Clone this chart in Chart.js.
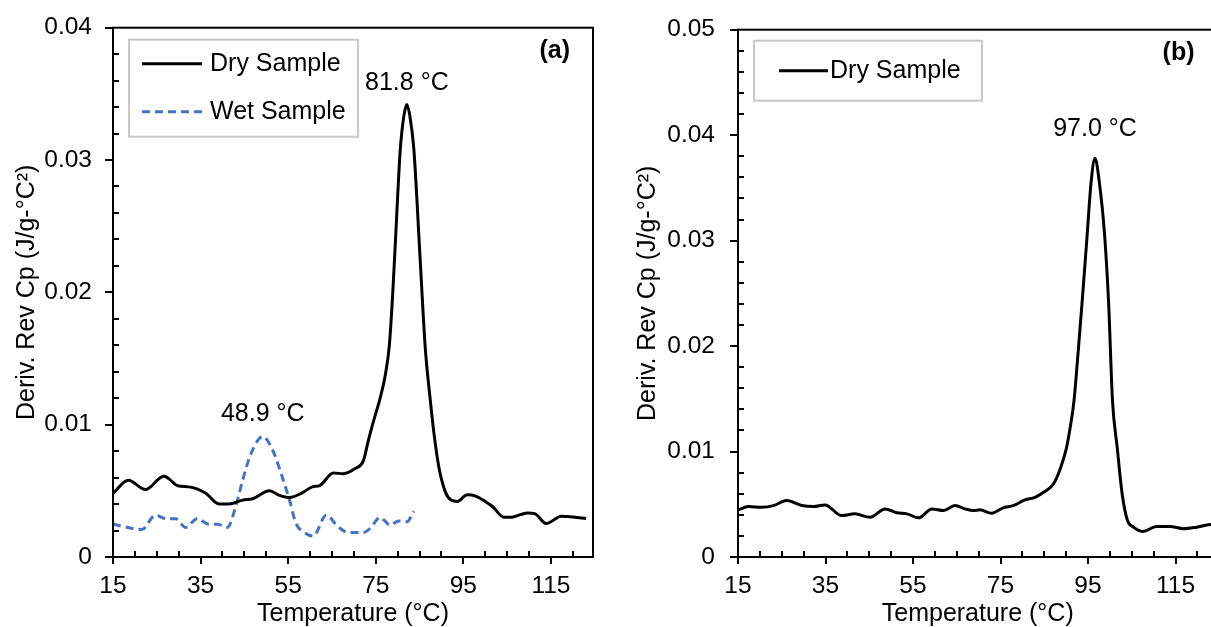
<!DOCTYPE html>
<html>
<head>
<meta charset="utf-8">
<title>Deriv. Rev Cp - Dry / Wet Sample</title>
<script src="https://cdn.jsdelivr.net/npm/chart.js@4.4.1/dist/chart.umd.min.js"></script>
<style>
html, body { margin:0; padding:0; background:#fff; overflow:hidden; }
#wrap { position:relative; width:1211px; height:627px; overflow:hidden; }
#id_chart_a { position:absolute; left:0; top:0; }
#id_chart_b { position:absolute; left:621px; top:0; }
</style>
</head>
<body>
<div id="wrap">
    <canvas id="id_chart_a" width="621" height="627"></canvas>
    <canvas id="id_chart_b" width="620" height="627"></canvas>
</div>
<script>
// ---- values read off the figure : temperature (°C) / Deriv. Rev Cp (J/g-°C^2)
// panel (a), dry
var tempDryA = [15, 18.5, 22.4, 26.6, 30, 32.3, 36.1, 39.2, 41.5, 44.6,
    46.9, 50.7, 53, 55.3, 58.2, 60.5, 62.2, 65.3, 67.6, 70.2,
    72.2, 73.3, 74.6, 76.0, 77.2, 78.1, 78.8, 79.4, 80.6, 81.4,
    82.1, 82.8, 83.7, 85.0, 86.3, 87.4, 88.3, 89.4, 90.9, 92.2,
    93.6, 95.9, 97.8, 100, 101.7, 104.3, 105.8, 108, 109.7, 111.3,
    113.9, 117.4, 120.1, 123];
var cpDryA = [0.0048, 0.0058, 0.0051, 0.0061, 0.00536, 0.0053, 0.00484, 0.004, 0.004, 0.0043,
    0.0044, 0.005, 0.00466, 0.0045, 0.00485, 0.0053, 0.0054, 0.00634, 0.0063, 0.00667,
    0.0073, 0.0088, 0.0104, 0.012, 0.0138, 0.016, 0.0195, 0.0233, 0.0308, 0.0333,
    0.0342, 0.0333, 0.0308, 0.0233, 0.0158, 0.012, 0.0093, 0.0068, 0.0049, 0.0043,
    0.0042, 0.0047, 0.0046, 0.0042, 0.0038, 0.003, 0.003, 0.0032, 0.00333, 0.00328,
    0.00253, 0.00308, 0.00303, 0.00291];
// panel (a), wet
var tempWetA = [15, 17, 21.6, 24.7, 27, 29.3, 31.6, 34.2, 36.9, 38.8,
    41.1, 43, 44.6, 46.5, 49.2, 51.5, 53.4, 55.3, 56.8, 58.5,
    60.7, 63.7, 66.4, 68.7, 72.2, 73.7, 76, 78.3, 80.2, 82.1,
    83.7];
var cpWetA = [0.0025, 0.00233, 0.00208, 0.00316, 0.0029, 0.0029, 0.00223, 0.0029, 0.00248, 0.00248,
    0.00223, 0.00378, 0.0058, 0.0078, 0.0091, 0.00805, 0.0063, 0.0043, 0.00253, 0.0019,
    0.00158, 0.00316, 0.00228, 0.00186, 0.00186, 0.00216, 0.00298, 0.00241, 0.00273, 0.00266,
    0.00346];
// panel (b), dry
var tempDryB = [15, 17.4, 20.4, 23.1, 26.1, 29.6, 32.2, 34.9, 38.7, 41.7,
    45.2, 48.6, 51.3, 53.6, 56.3, 59.3, 62, 64.6, 66.9, 68.8,
    70.3, 73, 75.6, 77.9, 80.6, 82.9, 85.2, 87.1, 88.6, 90,
    90.9, 91.8, 92.7, 93.7, 94.8, 95.7, 96.6, 97.6, 98.8, 99.7,
    100.6, 101.7, 102.8, 104, 105.4, 107.5, 110.7, 113.7, 116.8, 119.8,
    122.9, 124.6];
var cpDryB = [0.00447, 0.00478, 0.00472, 0.00487, 0.00535, 0.00488, 0.00478, 0.00494, 0.00393, 0.00409,
    0.00377, 0.00456, 0.00419, 0.00409, 0.00371, 0.00456, 0.0044, 0.00488, 0.00456, 0.0044,
    0.00447, 0.00415, 0.00466, 0.00487, 0.00541, 0.00566, 0.00623, 0.00692, 0.0083, 0.0102,
    0.0122, 0.0148, 0.0192, 0.0244, 0.0305, 0.0355, 0.0378, 0.0355, 0.0305, 0.0242,
    0.0148, 0.0103, 0.006, 0.0035, 0.00283, 0.00242, 0.0029, 0.0029, 0.00268, 0.00283,
    0.00308, 0.0031];

var xTickLabels = [15, 35, 55, 75, 95, 115];
var yTickLabelsA = [0, 0.01, 0.02, 0.03, 0.04];
var yTickLabelsB = [0, 0.01, 0.02, 0.03, 0.04, 0.05];

var seriesNames = ["Dry Sample", "Wet Sample"];
var peakTextA = ["81.8 °C", "48.9 °C"];
var peakTextB = ["97.0 °C"];
var panelTags = ["(a)", "(b)"];
var xTitle = "Temperature (°C)";
var yTitle = "Deriv. Rev Cp (J/g-°C²)";

// ----------------------------------------------------------------------
var FONT = '"Liberation Sans", Arial, sans-serif';
Chart.defaults.font.family = FONT;
Chart.defaults.color = '#000';

var _points = function( temps, values ){
    var list = [], n = temps.length, i;
    for( i=0; i<n; i++ ){
        list.push({ "x" : temps[i], "y" : values[i] });
    }
    return list;
};

// frame, inward minor ticks, boxed legend, peak notes and the (a)/(b) tag
var _decorPlugin = function( cfg ){
    return {
        id : 'panelDecor',
        afterDraw : function( chart ){
            var ctx = chart.ctx;
            var area = chart.chartArea;
            var xs = chart.scales.x, ys = chart.scales.y;
            var k, v, px, py;

            ctx.save();
            ctx.strokeStyle = '#000';
            ctx.lineWidth = 2;
            ctx.strokeRect(area.left, area.top, area.right - area.left, area.bottom - area.top);

            ctx.beginPath();
            for( k=1; (v = xs.min + k*5) <= xs.max; k++ ){
                if( k % 4 === 0 ) continue;
                px = Math.round(xs.getPixelForValue(v));
                ctx.moveTo(px, area.bottom);
                ctx.lineTo(px, area.bottom - 6);
            }
            for( k=1; (v = k*0.002) <= ys.max + 1e-9; k++ ){
                if( k % 5 === 0 ) continue;
                py = Math.round(ys.getPixelForValue(v));
                ctx.moveTo(area.left, py);
                ctx.lineTo(area.left + 6, py);
            }
            ctx.stroke();

            // legend
            var lg = cfg.legend;
            ctx.strokeStyle = '#c8c8c8';
            ctx.lineWidth = 2;
            ctx.strokeRect(area.left + lg.box[0], area.top + lg.box[1], lg.box[2], lg.box[3]);
            ctx.font = '25px ' + FONT;
            ctx.textBaseline = 'middle';
            ctx.textAlign = 'left';
            ctx.fillStyle = '#000';
            chart.data.datasets.forEach(function( ds, i ){
                var y = area.top + lg.rows[i];
                ctx.beginPath();
                ctx.strokeStyle = ds.borderColor;
                ctx.lineWidth = ds.borderWidth;
                ctx.setLineDash(ds.borderDash || []);
                ctx.moveTo(area.left + lg.line[0], y);
                ctx.lineTo(area.left + lg.line[1], y);
                ctx.stroke();
                ctx.setLineDash([]);
                ctx.fillText(ds.label, area.left + lg.textX, y);
            });

            // peak notes, above the highest point of each series
            ctx.textAlign = 'center';
            cfg.notes.forEach(function( note ){
                var data = chart.data.datasets[note.dataset].data;
                var top = data[0];
                data.forEach(function( p ){ if( p.y > top.y ) top = p; });
                ctx.fillText(note.text, xs.getPixelForValue(top.x), ys.getPixelForValue(top.y) - note.lift);
            });

            ctx.font = 'bold 25px ' + FONT;
            ctx.textAlign = 'right';
            ctx.fillText(cfg.tag, area.right - 23, area.top + 23);
            ctx.restore();
        }
    };
};

var _makePanel = function( canvasId, datasets, yTicks, cfg ){
    return new Chart(document.getElementById(canvasId), {
        type : 'line',
        data : { datasets : datasets },
        options : {
            responsive : false,
            animation : false,
            devicePixelRatio : 1,
            layout : { autoPadding : false, padding : cfg.padding },
            plugins : { legend : { display : false }, tooltip : { enabled : false } },
            elements : {
                point : { radius : 0 },
                line : { cubicInterpolationMode : 'monotone' }
            },
            scales : {
                x : {
                    type : 'linear',
                    position : 'bottom',
                    min : 15,
                    max : 124.6,
                    border : { display : false },
                    grid : { drawOnChartArea : false, tickLength : 7, color : '#000', lineWidth : 2 },
                    ticks : {
                        font : { size : 24.5 },
                        padding : 8,
                        autoSkip : false,
                        maxRotation : 0,
                        callback : function( v ){ return String(v); }
                    },
                    afterBuildTicks : function( scale ){
                        scale.ticks = xTickLabels.map(function( v ){ return { value : v }; });
                    },
                    afterFit : function( scale ){ scale.height = 70; },
                    title : {
                        display : true, text : xTitle,
                        font : { size : 25, lineHeight : 1 },
                        padding : { top : 14.5, bottom : 0 }
                    }
                },
                y : {
                    type : 'linear',
                    min : 0,
                    max : yTicks[yTicks.length - 1],
                    border : { display : false },
                    grid : { drawOnChartArea : false, tickLength : 8, color : '#000', lineWidth : 2 },
                    ticks : {
                        font : { size : 24.5 },
                        padding : cfg.yPad,
                        autoSkip : false,
                        callback : function( v ){ return v === 0 ? '0' : v.toFixed(2); }
                    },
                    afterBuildTicks : function( scale ){
                        scale.ticks = yTicks.map(function( v ){ return { value : v }; });
                    },
                    afterFit : function( scale ){ scale.width = cfg.yWidth; },
                    title : {
                        display : true, text : yTitle,
                        font : { size : 25, lineHeight : 1 },
                        padding : { top : 14.5, bottom : 0 }
                    }
                }
            }
        },
        plugins : [ _decorPlugin(cfg) ]
    });
};

var drySeries = function( temps, values ){
    return {
        label : seriesNames[0],
        data : _points(temps, values),
        borderColor : '#000000',
        borderWidth : 3,
        fill : false
    };
};

_makePanel('id_chart_a', [
    drySeries(tempDryA, cpDryA),
    {
        label : seriesNames[1],
        data : _points(tempWetA, cpWetA),
        borderColor : '#4472c4',
        borderWidth : 3,
        borderDash : [8, 5],
        fill : false
    }
], yTickLabelsA, {
    padding : { top : 25, right : 28, bottom : 0, left : 0 },
    yWidth : 113,
    yPad : 13,
    tag : panelTags[0],
    legend : { box : [16, 12, 229, 97], line : [29, 89], textX : 97, rows : [36, 84] },
    notes : [
        { dataset : 0, text : peakTextA[0], lift : 21 },
        { dataset : 1, text : peakTextA[1], lift : 22 }
    ]
});

_makePanel('id_chart_b', [
    drySeries(tempDryB, cpDryB)
], yTickLabelsB, {
    padding : { top : 26, right : 23.5, bottom : 0, left : 0 },
    yWidth : 117,
    yPad : 15,
    tag : panelTags[1],
    legend : { box : [16, 11, 228, 60], line : [41, 90], textX : 92, rows : [41] },
    notes : [
        { dataset : 0, text : peakTextB[0], lift : 29 }
    ]
});
</script>
</body>
</html>
